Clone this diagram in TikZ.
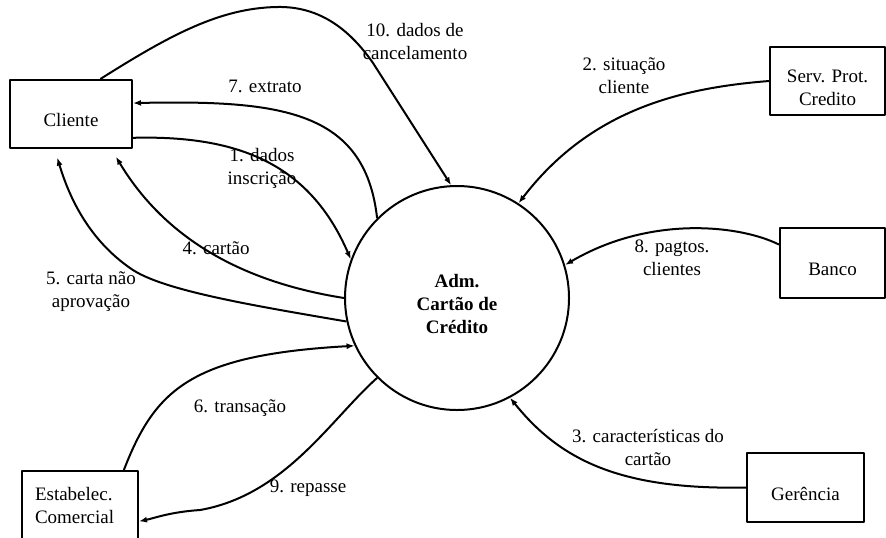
\documentclass[tikz,border=0pt]{standalone}
\usepackage{fontspec}
\setmainfont{Liberation Serif}
\usetikzlibrary{arrows.meta}

\begin{document}
\begin{tikzpicture}[x=0.5pt,y=-0.5pt,>={Latex[length=4pt,width=3pt]},line join=round,
  entidade/.style={draw,line width=1pt,rectangle,inner sep=0pt,font=\fontsize{9.5}{11.5}\selectfont,align=center},
  processo/.style={draw,line width=1pt,circle,minimum size=112pt,inner sep=0pt,font=\fontsize{9.5}{11.5}\selectfont\bfseries,align=center},
  fluxo/.style={->,line width=1pt},
  rotulo/.style={font=\fontsize{9.5}{11.5}\selectfont,align=center,inner sep=1pt}]
  \useasboundingbox (0,0) rectangle (886,537);
  \node[processo,text height=35.4pt,text depth=0pt] (adm) at (457,298) {Adm.\\Cartão de\\Crédito};
  \node[entidade,minimum width=61pt,minimum height=34pt,text height=12.5pt,text depth=0pt] (cliente) at (71,114) {Cliente};
  \node[entidade,minimum width=57.5pt,minimum height=34pt,text height=24pt,text depth=0pt] (serv) at (827.5,81) {Serv. Prot.\\Credito};
  \node[entidade,minimum width=52.5pt,minimum height=35pt,text height=12.5pt,text depth=0pt] (banco) at (832.5,263) {Banco};
  \node[entidade,minimum width=58.5pt,minimum height=34.5pt,text height=12.5pt,text depth=0pt] (ger) at (805.5,487.5) {Gerência};
  \node[entidade,minimum width=58pt,minimum height=34.5pt,text width=45pt,inner xsep=6.5pt,align=left] (estab) at (80,505.5) {Estabelec.\\Comercial};
  \draw[fluxo] (cliente.50) .. controls (170,35) and (220,8) .. (277,7) .. controls (320,6) and (350,30) .. (373,63) -- (adm.93);
  \draw[fluxo] (adm.135) .. controls (365,110) and (280,100) .. (cliente.10);
  \draw[fluxo] (cliente.-21) .. controls (240,135) and (310,165) .. (adm.160);
  \draw[fluxo,shorten >=4.5pt] (adm.180) .. controls (230,280) and (160,230) .. (cliente.-41);
  \draw[fluxo,shorten >=4.5pt] (adm.192) .. controls (250,305) and (160,290) .. (130,268) .. controls (90,240) and (70,200) .. (cliente.245);
  \draw[fluxo] (estab.39) .. controls (155,390) and (190,355) .. (adm.205);
  \draw[fluxo] (adm.225) .. controls (330,420) and (285,495) .. (200,510) .. controls (170,512) and (155,518) .. (estab.-15);
  \draw[fluxo] (serv.west) .. controls (680,88) and (590,110) .. (adm.57);
  \draw[fluxo] (banco.161) .. controls (740,225) and (650,215) .. (adm.17);
  \draw[fluxo] (ger.west) .. controls (620,490) and (560,460) .. (adm.-62);
  \node[rotulo] (l10) at (415,41) {10. dados de\\cancelamento};
  \node[rotulo] (l7) at (265,86) {7. extrato};
  \node[rotulo] (l1) at (262,168) {1. dados\\inscrição};
  \node[rotulo] (l2) at (624,76) {2. situação\\cliente};
  \node[rotulo] (l4) at (216,248) {4. cartão};
  \node[rotulo] (l5) at (91,292) {5. carta não\\aprovação};
  \node[rotulo] (l8) at (672,258) {8. pagtos.\\clientes};
  \node[rotulo] (l6) at (240,408) {6. transação};
  \node[rotulo] (l9) at (308,488) {9. repasse};
  \node[rotulo] (l3) at (648,447) {3. características do\\cartão};
\end{tikzpicture}
\end{document}
